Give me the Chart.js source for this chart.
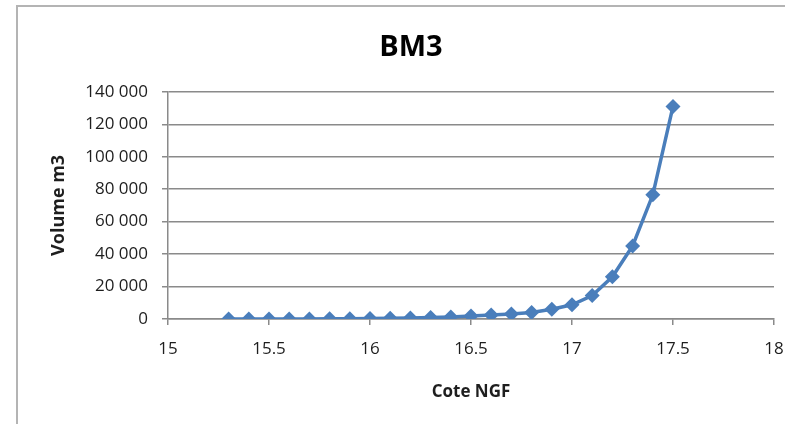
<!DOCTYPE html>
<html>
<head>
<meta charset="utf-8">
<script src="https://cdn.jsdelivr.net/npm/chart.js@4.4.1/dist/chart.umd.min.js"></script>
<style>
  html, body { margin: 0; padding: 0; width: 785px; height: 424px; overflow: hidden; background: #ffffff; }
  #frame { position: absolute; left: 16px; top: 5px; width: 900px; height: 600px;
           border-left: 2px solid #b4b4b4; border-top: 2px solid #b4b4b4; }
  #wrap { position: absolute; left: 18px; top: 7px; width: 800px; height: 417px; }
</style>
</head>
<body>
<div id="frame"></div>
<div id="wrap"><canvas id="chart" width="800" height="417"></canvas></div>
<script>
// Water level (Cote NGF, m) and stored volume (m3) for basin BM3
const levels = [15.3, 15.4, 15.5, 15.6, 15.7, 15.8, 15.9, 16.0, 16.1, 16.2, 16.3, 16.4,
                16.5, 16.6, 16.7, 16.8, 16.9, 17.0, 17.1, 17.2, 17.3, 17.4, 17.5];
const volumes = [0, 0, 0, 10, 40, 80, 150, 250, 400, 600, 900, 1300,
                 1900, 2500, 3100, 4000, 6000, 8800, 14500, 26000, 45000, 76500, 131000];

const chartTitle = 'BM3';
const xTitle = 'Cote NGF';
const yTitle = 'Volume m3';
const xTicks = [15, 15.5, 16, 16.5, 17, 17.5, 18];
const yTicks = [0, 20000, 40000, 60000, 80000, 100000, 120000, 140000];

const points = levels.map((lv, i) => ({ x: lv, y: volumes[i] }));

const gridGray = '#8a8a8a';
const textColor = '#1e1e1e';
const fontFamily = '"Open Sans", "DejaVu Sans", sans-serif';

function spaced(v) {
  return String(v).replace(/\B(?=(\d{3})+(?!\d))/g, ' ');
}

new Chart(document.getElementById('chart'), {
  type: 'line',
  data: {
    datasets: [{
      data: points,
      borderColor: '#4a7ebb',
      backgroundColor: '#4a7ebb',
      borderWidth: 3.5,
      pointStyle: 'rectRot',
      pointRadius: 7.5,
      pointBorderWidth: 0,
      tension: 0,
      fill: false
    }]
  },
  options: {
    responsive: false,
    animation: false,
    layout: { padding: { left: 30, right: 44, top: 0, bottom: 0 } },
    plugins: {
      legend: { display: false },
      tooltip: { enabled: false },
      title: {
        display: true,
        text: chartTitle,
        color: '#000000',
        font: { family: fontFamily, size: 29, weight: 'bold', lineHeight: 1.2 },
        padding: { top: 23, bottom: 27 }
      }
    },
    scales: {
      x: {
        type: 'linear',
        min: 15,
        max: 18,
        afterBuildTicks: (s) => { s.ticks = xTicks.map(v => ({ value: v })); },
        afterFit: (s) => { s.height = 417 - 312; },
        ticks: {
          color: textColor,
          font: { family: fontFamily, size: 17 },
          padding: 14,
          maxRotation: 0,
          callback: (v) => String(v)
        },
        grid: { drawOnChartArea: false, drawTicks: true, tickLength: 6, color: gridGray, lineWidth: 1.5 },
        border: { display: true, color: gridGray, width: 1.5 },
        title: {
          display: true,
          text: xTitle,
          color: textColor,
          font: { family: fontFamily, size: 17, weight: 'bold', lineHeight: 1.2 },
          padding: { top: 0, bottom: 22 }
        }
      },
      y: {
        type: 'linear',
        min: 0,
        max: 140000,
        afterBuildTicks: (s) => { s.ticks = yTicks.map(v => ({ value: v })); },
        afterFit: (s) => { s.width = 120; },
        ticks: {
          color: textColor,
          font: { family: fontFamily, size: 17 },
          padding: 14,
          callback: (v) => spaced(v)
        },
        grid: { drawOnChartArea: true, drawTicks: true, tickLength: 6, color: gridGray, lineWidth: 1.5 },
        border: { display: true, color: gridGray, width: 1.5 },
        title: {
          display: true,
          text: yTitle,
          color: textColor,
          font: { family: fontFamily, size: 18, weight: 'bold', lineHeight: 1.2 },
          padding: { top: 0, bottom: 0 }
        }
      }
    }
  }
});
</script>
</body>
</html>
